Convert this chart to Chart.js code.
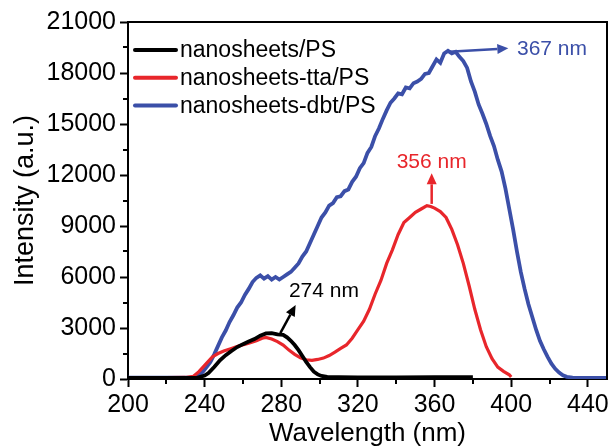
<!DOCTYPE html>
<html>
<head>
<meta charset="utf-8">
<script src="https://cdn.jsdelivr.net/npm/chart.js@4.4.0/dist/chart.umd.min.js"></script>
<style>
  html, body { margin: 0; padding: 0; background: #fff; }
  #wrap { width: 612px; height: 448px; }
</style>
</head>
<body>
<div id="wrap"><canvas id="spectra"></canvas></div>
<script>
// Emission spectra, values (nm -> intensity a.u.)

const blackNm = [200, 210, 220, 230, 236, 240, 242, 245, 248, 251, 254, 257, 260, 263, 266, 269, 272, 275, 278, 281, 283, 285, 287, 289, 291, 293, 295, 297, 299, 301, 304, 310, 320, 340, 360, 370, 380];
const blackVal = [60, 60, 60, 60, 70, 200, 350, 700, 1100, 1400, 1650, 1880, 2050, 2200, 2350, 2550, 2680, 2700, 2620, 2600, 2450, 2250, 2000, 1700, 1350, 1000, 700, 430, 270, 180, 130, 110, 100, 100, 110, 110, 110];

const redNm = [200, 210, 220, 230, 234, 237, 240, 244, 247, 250, 254, 258, 263, 267, 270, 272, 275, 278, 281, 284, 287, 290, 293, 296, 299, 302, 305, 308, 311, 314, 317, 320, 323, 326, 329, 332, 335, 338, 341, 344, 347, 350, 353, 356, 358, 360, 363, 366, 369, 372, 375, 378, 381, 384, 387, 390, 393, 396, 399, 400];
const redVal = [80, 80, 80, 90, 150, 430, 800, 1300, 1500, 1650, 1800, 1950, 2100, 2250, 2400, 2450, 2350, 2200, 2000, 1700, 1450, 1250, 1130, 1100, 1150, 1230, 1380, 1580, 1800, 2000, 2400, 2900, 3400, 4100, 5000, 5800, 6800, 7600, 8500, 9200, 9500, 9800, 10000, 10200, 10150, 10050, 9850, 9500, 8800, 7900, 6800, 5500, 4100, 2900, 1900, 1200, 700, 450, 250, 120];

const blueNm = [200, 210, 220, 230, 235, 237, 239, 241, 243, 245, 247, 249, 251, 253, 255, 257, 259, 261, 263, 265, 267, 269, 271, 273, 275, 277, 279, 281, 283, 285, 287, 289, 291, 293, 295, 297, 299, 301, 303, 305, 307, 309, 311, 313, 315, 317, 319, 321, 323, 325, 327, 329, 331, 333, 335, 337, 339, 341, 343, 345, 347, 349, 351, 353, 355, 357, 359, 361, 363, 365, 367, 369, 371, 373, 375, 377, 379, 381, 383, 385, 387, 389, 391, 393, 395, 397, 399, 401, 403, 405, 407, 409, 411, 413, 415, 417, 419, 421, 423, 425, 427, 429, 432, 440, 450];
const blueVal = [80, 80, 80, 80, 100, 200, 420, 700, 1000, 1450, 1950, 2450, 2850, 3350, 3750, 4200, 4500, 4950, 5300, 5700, 5950, 6100, 5900, 6050, 5850, 6000, 5850, 6000, 6150, 6300, 6550, 6800, 7200, 7500, 8000, 8500, 9000, 9500, 9800, 10200, 10350, 10700, 10750, 11050, 11150, 11600, 11900, 12400, 12700, 13300, 13650, 14300, 14750, 15300, 15800, 16250, 16500, 16800, 16750, 17150, 17100, 17400, 17500, 17650, 17950, 18000, 18400, 18800, 18600, 19150, 19300, 19150, 19250, 18950, 18700, 18300, 17500, 16900, 16150, 15600, 15000, 14300, 13700, 12900, 12200, 11200, 10000, 8800, 7500, 6300, 5300, 4400, 3650, 2900, 2250, 1750, 1300, 900, 600, 380, 220, 130, 80, 60, 60];

const seriesNames = ['nanosheets/PS', 'nanosheets-tta/PS', 'nanosheets-dbt/PS'];
const seriesColors = ['#000000', '#e8262b', '#3b4fa8'];

const xTicks = [200, 240, 280, 320, 360, 400, 440];
const xMinor = [220, 260, 300, 340, 380, 420];
const yTicks = [0, 3000, 6000, 9000, 12000, 15000, 18000, 21000];
const yMinor = [1500, 4500, 7500, 10500, 13500, 16500, 19500];

// peak markers: arrow from -> to, label anchor (all in data units)
const peakNotes = [
  { text: '274 nm', series: 0, from: [279.5, 2700], to: [287.5, 4350], label: [284, 5150], align: 'left' },
  { text: '356 nm', series: 1, from: [358.5, 10300], to: [358.5, 12100], label: [358.5, 12750], align: 'center' },
  { text: '367 nm', series: 2, from: [367.5, 19250], to: [398.5, 19450], label: [403, 19400], align: 'left' }
];

const FONT = "'Liberation Sans', Arial, Helvetica, sans-serif";

function toPoints(xs, ys) {
  return xs.map((x, i) => ({ x: x, y: ys[i] }));
}

function drawArrow(ctx, x1, y1, x2, y2, color) {
  const ang = Math.atan2(y2 - y1, x2 - x1);
  const head = 11, half = 5;
  ctx.strokeStyle = color;
  ctx.fillStyle = color;
  ctx.lineWidth = 2.5;
  ctx.beginPath();
  ctx.moveTo(x1, y1);
  ctx.lineTo(x2 - head * Math.cos(ang), y2 - head * Math.sin(ang));
  ctx.stroke();
  ctx.beginPath();
  ctx.moveTo(x2, y2);
  ctx.lineTo(x2 - head * Math.cos(ang) + half * Math.sin(ang), y2 - head * Math.sin(ang) - half * Math.cos(ang));
  ctx.lineTo(x2 - head * Math.cos(ang) - half * Math.sin(ang), y2 - head * Math.sin(ang) + half * Math.cos(ang));
  ctx.closePath();
  ctx.fill();
}

const extras = {
  id: 'extras',
  afterDraw(chart) {
    const ctx = chart.ctx;
    const area = chart.chartArea;
    const xs = chart.scales.x, ys = chart.scales.y;
    ctx.save();

    // top and right frame
    ctx.strokeStyle = '#000';
    ctx.lineWidth = 2;
    ctx.beginPath();
    ctx.moveTo(area.left - 1, area.top);
    ctx.lineTo(area.right, area.top);
    ctx.lineTo(area.right, area.bottom + 1);
    ctx.stroke();

    // minor ticks
    ctx.lineWidth = 2;
    ctx.beginPath();
    xMinor.forEach(v => {
      const px = Math.round(xs.getPixelForValue(v));
      ctx.moveTo(px, area.bottom);
      ctx.lineTo(px, area.bottom + 5);
    });
    yMinor.forEach(v => {
      const py = Math.round(ys.getPixelForValue(v));
      ctx.moveTo(area.left, py);
      ctx.lineTo(area.left - 5, py);
    });
    ctx.stroke();

    // legend in the top-left corner
    ctx.font = '23px ' + FONT;
    ctx.textBaseline = 'middle';
    ctx.textAlign = 'left';
    chart.data.datasets.forEach((ds, i) => {
      const y = area.top + 28 + i * 27.8;
      ctx.strokeStyle = ds.borderColor;
      ctx.lineWidth = 4;
      ctx.lineCap = 'round';
      ctx.beginPath();
      ctx.moveTo(area.left + 7, y);
      ctx.lineTo(area.left + 48, y);
      ctx.stroke();
      ctx.fillStyle = '#000';
      ctx.fillText(ds.label, area.left + 52, y + 1);
    });
    ctx.lineCap = 'butt';

    // peak arrows and labels
    peakNotes.forEach(n => {
      const c = seriesColors[n.series];
      drawArrow(ctx,
        xs.getPixelForValue(n.from[0]), ys.getPixelForValue(n.from[1]),
        xs.getPixelForValue(n.to[0]), ys.getPixelForValue(n.to[1]), c);
      ctx.fillStyle = c;
      ctx.font = '21px ' + FONT;
      ctx.textAlign = n.align;
      ctx.textBaseline = 'middle';
      ctx.fillText(n.text, xs.getPixelForValue(n.label[0]), ys.getPixelForValue(n.label[1]));
    });
    ctx.restore();
  }
};

const ctx = document.getElementById('spectra').getContext('2d');
const allNm = [blackNm, redNm, blueNm];
const allVal = [blackVal, redVal, blueVal];

new Chart(ctx, {
  type: 'line',
  data: {
    datasets: seriesNames.map((name, i) => ({
      label: name,
      data: toPoints(allNm[i], allVal[i]),
      borderColor: seriesColors[i],
      backgroundColor: seriesColors[i],
      borderWidth: i === 1 ? 3.2 : 3.8,
      pointRadius: 0,
      tension: 0,
      fill: false
    }))
  },
  options: {
    responsive: true,
    maintainAspectRatio: false,
    animation: false,
    layout: { padding: { left: 0, right: 5, top: 22, bottom: 0 } },
    plugins: {
      legend: { display: false },
      tooltip: { enabled: false }
    },
    scales: {
      x: {
        type: 'linear',
        min: 200,
        max: 450,
        afterBuildTicks: s => { s.ticks = xTicks.map(v => ({ value: v })); },
        afterFit: s => { s.height = 69; s.paddingLeft = 0; s.paddingRight = 0; },
        grid: {
          drawOnChartArea: false, drawTicks: true, tickLength: 8, tickWidth: 2,
          tickColor: c => (c.tick && xTicks.includes(c.tick.value)) ? '#000' : 'rgba(0,0,0,0)'
        },
        border: { color: '#000', width: 2 },
        ticks: {
          color: '#000', font: { family: FONT, size: 25 }, padding: 3, maxRotation: 0, autoSkip: false,
          callback: v => xTicks.includes(v) ? String(v) : ''
        },
        title: {
          display: true,
          text: 'Wavelength (nm)',
          color: '#000',
          font: { family: FONT, size: 26, lineHeight: 1 },
          padding: { top: 0, bottom: 1 }
        }
      },
      y: {
        min: 0,
        max: 21000,
        afterBuildTicks: s => { s.ticks = yTicks.map(v => ({ value: v })); },
        afterFit: s => { s.width = 128; s.paddingTop = 0; s.paddingBottom = 0; },
        grid: {
          drawOnChartArea: false, drawTicks: true, tickLength: 8, tickWidth: 2,
          tickColor: c => (c.tick && yTicks.includes(c.tick.value)) ? '#000' : 'rgba(0,0,0,0)'
        },
        border: { color: '#000', width: 2 },
        ticks: {
          color: '#000', font: { family: FONT, size: 25 }, padding: 4, autoSkip: false,
          callback: v => yTicks.includes(v) ? String(v) : ''
        },
        title: {
          display: true,
          text: 'Intensity (a.u.)',
          color: '#000',
          font: { family: FONT, size: 27, lineHeight: 1.2 },
          padding: { top: 9, bottom: 0 }
        }
      }
    }
  },
  plugins: [extras]
});
</script>
</body>
</html>
